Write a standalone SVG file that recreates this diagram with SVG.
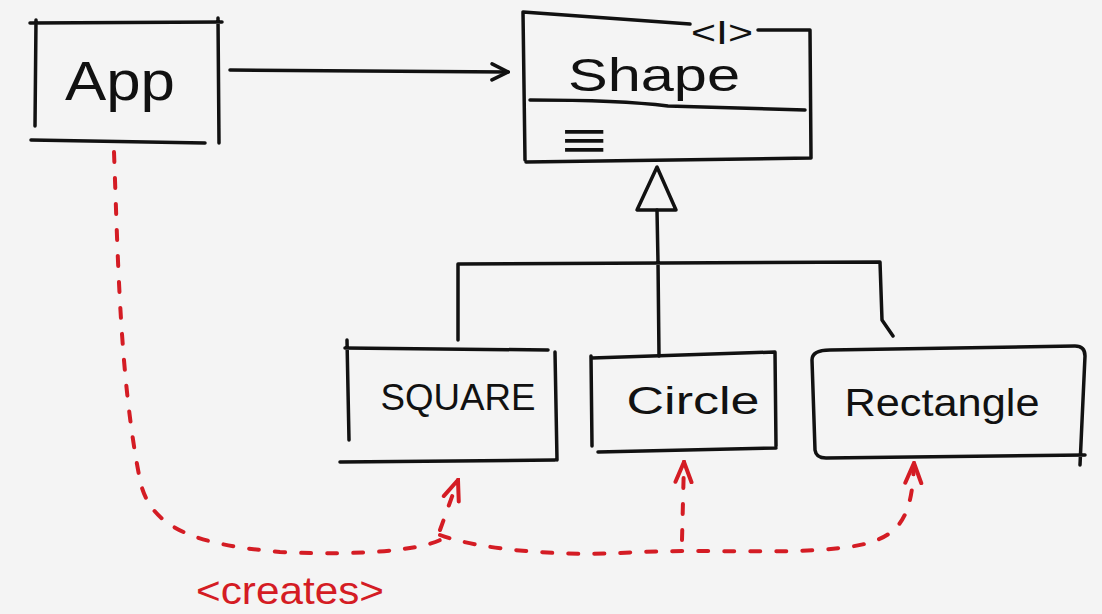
<svg xmlns="http://www.w3.org/2000/svg" width="1102" height="614" viewBox="0 0 1102 614">
<style>
.ink{fill:none;stroke:#111;stroke-width:3.5;stroke-linecap:round;stroke-linejoin:round}
.red{fill:none;stroke:#d41c24;stroke-width:4;stroke-linecap:round;stroke-linejoin:round}
.dash{stroke-dasharray:10 16}
.lbl{font-family:"Liberation Sans",Arial,sans-serif;fill:#111;text-anchor:middle}
.rlbl{font-family:"Liberation Sans",Arial,sans-serif;fill:#d41c24;text-anchor:middle}
</style>
<defs>
<marker id="open" viewBox="0 0 20 20" refX="18" refY="10" markerWidth="20" markerHeight="20" markerUnits="userSpaceOnUse" orient="auto">
<path d="M2,2 L18,10 L2,18" fill="none" stroke="#111" stroke-width="3.5" stroke-linecap="round"/>
</marker>
<marker id="ropen" viewBox="0 0 24 24" refX="22" refY="12" markerWidth="24" markerHeight="24" markerUnits="userSpaceOnUse" orient="auto">
<path d="M2,4 L22,12 L2,20" fill="none" stroke="#d41c24" stroke-width="4" stroke-linecap="round"/>
</marker>
</defs>
<rect width="1102" height="614" fill="#f4f4f4"/>

<g id="app">
<path class="ink" d="M30,23 L222,22 M36,20 L35,126 M218,18 L219,143 M31,140 L205,143"/>
<text class="lbl" x="120" y="100" font-size="56" textLength="110" lengthAdjust="spacingAndGlyphs">App</text>
</g>

<g id="shape">
<path class="ink" d="M523,12 L690,24 M758,30 L810,30 M523,12 L525,160 M810,30 L811,158 M526,162 L811,158 M530,100 Q620,100 668,106 L805,110"/>
<text class="lbl" x="722" y="44" font-size="34" textLength="62" lengthAdjust="spacingAndGlyphs">&lt;I&gt;</text>
<text class="lbl" x="654" y="91" font-size="46" textLength="172" lengthAdjust="spacingAndGlyphs">Shape</text>
<text class="lbl" x="584" y="158" font-size="52" textLength="46" lengthAdjust="spacingAndGlyphs">≡</text>
</g>

<g id="square">
<path class="ink" d="M347,340 L349,440 M345,348 L548,350 M555,352 L557,460 M340,462 L555,460"/>
<text class="lbl" x="458" y="410" font-size="36" textLength="155" lengthAdjust="spacingAndGlyphs">SQUARE</text>
</g>

<g id="circle">
<path class="ink" d="M591,356 L592,446 M592,358 L775,352 M775,352 L776,446 M598,452 L776,448"/>
<text class="lbl" x="693" y="414" font-size="38" textLength="133" lengthAdjust="spacingAndGlyphs">Circle</text>
</g>

<g id="rectangle">
<path class="ink" d="M812,360 L815,450 Q816,458 826,458 L1085,455 M812,360 Q812,350 830,350 L1075,346 Q1085,346 1085,356 L1080,465"/>
<text class="lbl" x="942" y="416" font-size="38" textLength="195" lengthAdjust="spacingAndGlyphs">Rectangle</text>
</g>

<g id="connectors">
<path class="ink" d="M230,70 L508,72" marker-end="url(#open)"/>
<path class="ink" d="M657,167 L637,210 L676,210 Z"/>
<path class="ink" d="M657,210 L658,262 L659,356 M458,340 L458,264 L880,262 L882,320 L893,336"/>
<path class="red dash" d="M114,152 C118,260 120,380 140,480 C150,530 200,545 280,552 C360,556 420,550 440,540"/>
<path class="red dash" d="M440,530 L458,480" marker-end="url(#ropen)"/>
<path class="red dash" d="M440,535 C480,550 560,556 620,553 C700,548 780,555 840,548 C900,542 912,520 914,463" marker-end="url(#ropen)"/>
<path class="red dash" d="M682,540 L684,462" marker-end="url(#ropen)"/>
<text class="rlbl" x="290" y="604" font-size="38" textLength="188" lengthAdjust="spacingAndGlyphs">&lt;creates&gt;</text>
</g>
</svg>
